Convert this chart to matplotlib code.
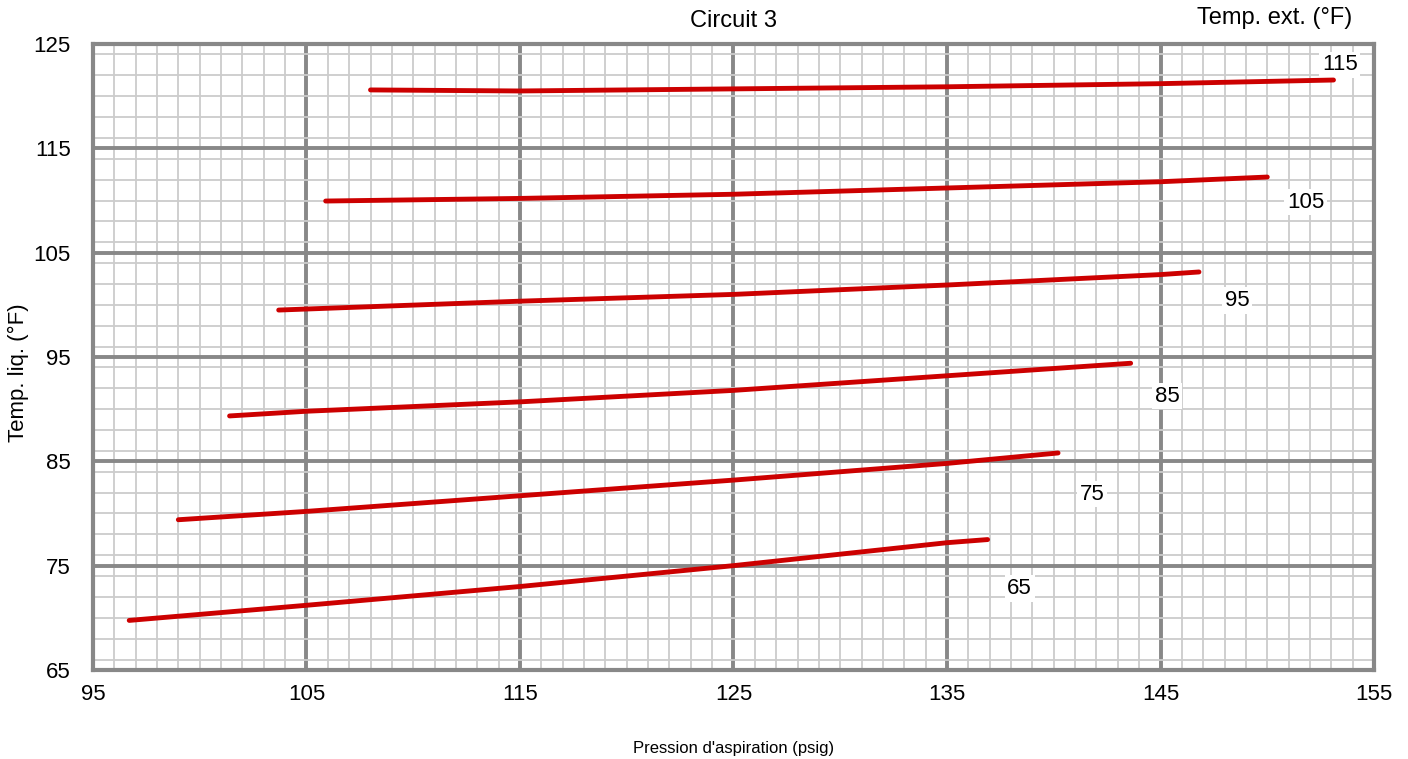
import matplotlib
matplotlib.use("Agg")
import matplotlib.pyplot as plt
from matplotlib.ticker import FixedLocator, MultipleLocator

plt.rcParams['font.family'] = ['Liberation Sans', 'DejaVu Sans']

# courbes : pression (psig) -> temp. liquide (F)
x_115 = [108.0, 115, 125, 135, 145, 153.1]
y_115 = [120.6, 120.5, 120.7, 120.9, 121.2, 121.55]
x_105 = [105.9, 115, 125, 135, 145, 150.0]
y_105 = [109.95, 110.2, 110.6, 111.2, 111.8, 112.25]
x_95 = [103.7, 115, 125, 135, 145, 146.8]
y_95 = [99.5, 100.35, 101.0, 101.9, 102.9, 103.15]
x_85 = [101.4, 105, 115, 125, 135, 143.6]
y_85 = [89.35, 89.8, 90.7, 91.8, 93.2, 94.4]
x_75 = [99.0, 105, 115, 125, 135, 140.2]
y_75 = [79.4, 80.2, 81.7, 83.2, 84.8, 85.8]
x_65 = [96.7, 105, 115, 125, 135, 136.9]
y_65 = [69.75, 71.2, 73.0, 75.0, 77.2, 77.5]

curves = [(x_115, y_115), (x_105, y_105), (x_95, y_95),
          (x_85, y_85), (x_75, y_75), (x_65, y_65)]
labels = ["115", "105", "95", "85", "75", "65"]
label_x = [153.4, 151.8, 148.6, 145.3, 141.8, 138.4]
label_y = [123.0, 109.85, 100.4, 91.25, 81.85, 72.8]

x_ticks = [95, 105, 115, 125, 135, 145, 155]
y_ticks = [65, 75, 85, 95, 105, 115, 125]

fig = plt.figure(figsize=(14.08, 7.59), dpi=100)
ax = fig.add_axes([0.066, 0.1173, 0.9099, 0.8247])

for (xs, ys) in curves:
    ax.plot(xs, ys, color="#cc0000", lw=3.5, solid_capstyle="round", zorder=3)

# etiquettes sous les courbes mais au-dessus de la grille
for lab, lx, ly in zip(labels, label_x, label_y):
    ax.text(lx, ly, lab, fontsize=16, ha="center", va="center", zorder=2.5,
            bbox=dict(facecolor="white", edgecolor="none", pad=2))

ax.set_xlim(95, 155)
ax.set_ylim(65, 125)
ax.xaxis.set_major_locator(FixedLocator(x_ticks))
ax.yaxis.set_major_locator(FixedLocator(y_ticks))
ax.xaxis.set_minor_locator(MultipleLocator(1))
ax.yaxis.set_minor_locator(MultipleLocator(2))
ax.grid(which="minor", color="#cccccc", lw=1.3, zorder=1)
ax.grid(which="major", color="#888888", lw=2.8, zorder=2)
ax.set_axisbelow(True)
for s in ax.spines.values():
    s.set_color("#888888")
    s.set_linewidth(3)
ax.tick_params(which="both", length=0, labelsize=16)
ax.tick_params(axis="x", pad=10)
ax.tick_params(axis="y", pad=16)

ax.set_xlabel("Pression d'aspiration (psig)", fontsize=12, labelpad=26)
ax.set_ylabel("Temp. liq. (°F)", fontsize=16)
ax.yaxis.set_label_coords(-0.05, 0.475)
fig.text(0.5206, 0.972, "Circuit 3", fontsize=17, ha="center", va="center")
fig.text(0.905, 0.976, "Temp. ext. (°F)", fontsize=17, ha="center", va="center")

plt.savefig("out.png", dpi=100)
